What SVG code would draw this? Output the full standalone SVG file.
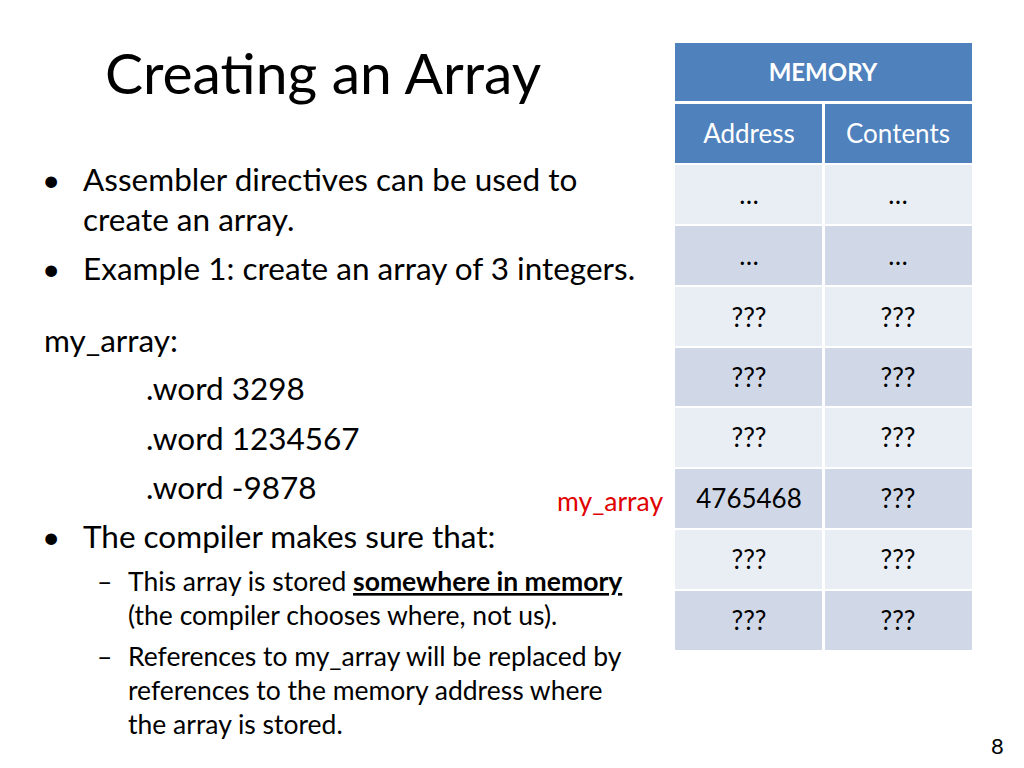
<svg xmlns="http://www.w3.org/2000/svg" width="1024" height="768" viewBox="0 0 1024 768">
<style>
text{font-family:Lato,"Open Sans",sans-serif;fill:#000}
.b{font-size:31.5px}
.s{font-size:26.5px}
.h{fill:#4f81bd}
.l{fill:#e9edf4}
.d{fill:#d0d8e8}
.t{font-size:26px;text-anchor:middle}
</style>
<rect width="1024" height="768" fill="#fff"/>
<text x="105" y="94" font-size="57">Creating an Array</text>
<g class="b">
<text x="42" y="191">•</text><text x="83" y="191">Assembler directives can be used to</text>
<text x="83" y="231">create an array.</text>
<text x="42" y="280">•</text><text x="83" y="280">Example 1: create an array of 3 integers.</text>
<text x="44" y="352">my_array:</text>
<text x="146" y="400">.word 3298</text>
<text x="146" y="450">.word 1234567</text>
<text x="146" y="499">.word -9878</text>
<text x="42" y="548">•</text><text x="83" y="548">The compiler makes sure that:</text>
</g>
<g class="s">
<text x="97" y="591">–</text><text x="128" y="591">This array is stored <tspan font-weight="bold" text-decoration="underline">somewhere in memory</tspan></text>
<text x="128" y="625">(the compiler chooses where, not us).</text>
<text x="97" y="666">–</text><text x="128" y="666">References to my_array will be replaced by</text>
<text x="128" y="700">references to the memory address where</text>
<text x="128" y="734">the array is stored.</text>
</g>
<text x="557" y="511" font-size="26.5" style="fill:#e00000">my_array</text>
<text x="991" y="754" font-size="22">8</text>
<g id="table">
<rect class="h" x="675" y="43" width="297" height="58"/>
<text class="t" x="823" y="81" font-weight="bold" style="fill:#fff;font-size:24px">MEMORY</text>
<rect class="h" x="675" y="104" width="147" height="59"/>
<rect class="h" x="825" y="104" width="147" height="59"/>
<text class="t" x="749" y="143" style="fill:#fff">Address</text>
<text class="t" x="898" y="143" style="fill:#fff">Contents</text>
<rect class="l" x="675" y="165" width="147" height="59"/><rect class="l" x="825" y="165" width="147" height="59"/>
<rect class="d" x="675" y="226" width="147" height="59"/><rect class="d" x="825" y="226" width="147" height="59"/>
<rect class="l" x="675" y="287" width="147" height="59"/><rect class="l" x="825" y="287" width="147" height="59"/>
<rect class="d" x="675" y="348" width="147" height="58"/><rect class="d" x="825" y="348" width="147" height="58"/>
<rect class="l" x="675" y="408" width="147" height="59"/><rect class="l" x="825" y="408" width="147" height="59"/>
<rect class="d" x="675" y="469" width="147" height="59"/><rect class="d" x="825" y="469" width="147" height="59"/>
<rect class="l" x="675" y="530" width="147" height="59"/><rect class="l" x="825" y="530" width="147" height="59"/>
<rect class="d" x="675" y="591" width="147" height="59"/><rect class="d" x="825" y="591" width="147" height="59"/>
<text class="t" x="749" y="204">…</text><text class="t" x="898" y="204">…</text>
<text class="t" x="749" y="265">…</text><text class="t" x="898" y="265">…</text>
<text class="t" x="749" y="327">???</text><text class="t" x="898" y="327">???</text>
<text class="t" x="749" y="387">???</text><text class="t" x="898" y="387">???</text>
<text class="t" x="749" y="447">???</text><text class="t" x="898" y="447">???</text>
<text class="t" x="749" y="508">4765468</text><text class="t" x="898" y="508">???</text>
<text class="t" x="749" y="569">???</text><text class="t" x="898" y="569">???</text>
<text class="t" x="749" y="630">???</text><text class="t" x="898" y="630">???</text>
</g>
</svg>
